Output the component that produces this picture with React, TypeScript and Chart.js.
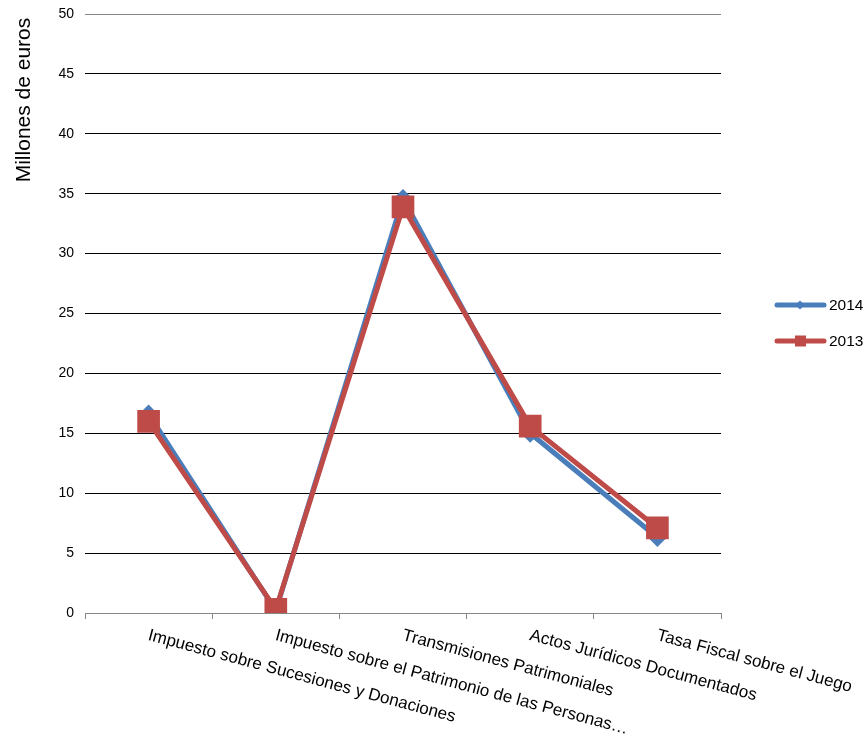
import React, { useEffect, useRef } from "react";
import { Chart, registerables } from "chart.js";

Chart.register(...registerables);

const categories = [
  "Impuesto sobre Sucesiones y Donaciones",
  "Impuesto sobre el Patrimonio de las Personas…",
  "Transmisiones Patrimoniales",
  "Actos Jurídicos Documentados",
  "Tasa Fiscal sobre el Juego",
];
const series2014 = [16.6, 0.2, 34.6, 15.0, 6.3];
const series2013 = [16.0, 0.3, 33.9, 15.6, 7.1];
const seriesNames = ["2014", "2013"];
const yTitle = "Millones de euros";

const BLUE = "#4A7EBB";
const RED = "#BE4B48";
const FONT = '"Liberation Sans", Arial, sans-serif';

const overlay = {
  id: "overlay",
  afterDraw(chart: any) {
    const ctx = chart.ctx;
    const xs = chart.scales.x;
    ctx.save();
    ctx.fillStyle = "#000";
    // category labels
    ctx.font = `17px ${FONT}`;
    ctx.textAlign = "left";
    ctx.textBaseline = "top";
    categories.forEach((c, i) => {
      const x = xs.getPixelForValue(i);
      ctx.save();
      ctx.translate(x + 2, chart.chartArea.bottom + 14);
      ctx.rotate((15 * Math.PI) / 180);
      ctx.fillText(c, 0, 0);
      ctx.restore();
    });
    // y title
    ctx.save();
    ctx.font = `21px ${FONT}`;
    ctx.textAlign = "center";
    ctx.textBaseline = "middle";
    ctx.translate(24, 100);
    ctx.rotate(-Math.PI / 2);
    ctx.fillText(yTitle, 0, 0);
    ctx.restore();
    // legend
    const colors = [BLUE, RED];
    seriesNames.forEach((name, i) => {
      const y = 305 + i * 36;
      ctx.strokeStyle = colors[i];
      ctx.lineWidth = 5;
      ctx.lineCap = "round";
      ctx.beginPath();
      ctx.moveTo(777, y);
      ctx.lineTo(824, y);
      ctx.stroke();
      ctx.fillStyle = colors[i];
      ctx.beginPath();
      if (i === 0) {
        ctx.moveTo(800, y - 4.5);
        ctx.lineTo(804.5, y);
        ctx.lineTo(800, y + 4.5);
        ctx.lineTo(795.5, y);
        ctx.closePath();
      } else {
        ctx.rect(795, y - 5.5, 11, 11);
      }
      ctx.fill();
      ctx.fillStyle = "#000";
      ctx.font = `15.5px ${FONT}`;
      ctx.textAlign = "left";
      ctx.textBaseline = "middle";
      ctx.fillText(name, 829, y + 1);
    });
    ctx.restore();
  },
};

export default function App() {
  const ref = useRef<HTMLCanvasElement>(null);
  useEffect(() => {
    if (!ref.current) return;
    const chart = new Chart(ref.current, {
      type: "line",
      data: {
        labels: categories,
        datasets: [
          {
            label: seriesNames[0],
            data: series2014,
            borderColor: BLUE,
            backgroundColor: BLUE,
            borderWidth: 5,
            pointStyle: "rectRot",
            pointRadius: 6,
            tension: 0,
            order: 1,
          },
          {
            label: seriesNames[1],
            data: series2013,
            borderColor: RED,
            backgroundColor: RED,
            borderWidth: 5,
            pointStyle: "rect",
            pointRadius: 12.5,
            tension: 0,
            order: 0,
          },
        ],
      },
      options: {
        animation: false,
        responsive: false,
        devicePixelRatio: 1,
        layout: { autoPadding: false, padding: { top: 14, right: 144, left: 0, bottom: 0 } },
        plugins: { legend: { display: false }, tooltip: { enabled: false } },
        scales: {
          x: {
            offset: true,
            afterFit: (s: any) => {
              s.height = 126;
              s.paddingLeft = 0;
              s.paddingRight = 0;
            },
            ticks: { display: false },
            grid: {
              offset: true,
              drawOnChartArea: false,
              drawTicks: true,
              tickLength: 6,
              color: "#868686",
            },
            border: { color: "#868686", width: 1 },
          },
          y: {
            min: 0,
            max: 50,
            afterFit: (s: any) => {
              s.width = 85;
              s.paddingTop = 0;
              s.paddingBottom = 0;
            },
            ticks: {
              stepSize: 5,
              padding: 11,
              color: "#000",
              font: { family: FONT, size: 14 },
            },
            grid: {
              drawTicks: false,
              color: (c: any) =>
                c.tick && (c.tick.value === 50 || c.tick.value === 0) ? "#868686" : "#000",
              lineWidth: 1,
            },
            border: { display: false },
          },
        },
      },
      plugins: [overlay],
    });
    return () => chart.destroy();
  }, []);
  return (
    <div style={{ position: "absolute", left: 0, top: 0, width: 865, height: 739 }}>
      <canvas ref={ref} width={865} height={739} style={{ width: 865, height: 739 }} />
    </div>
  );
}
